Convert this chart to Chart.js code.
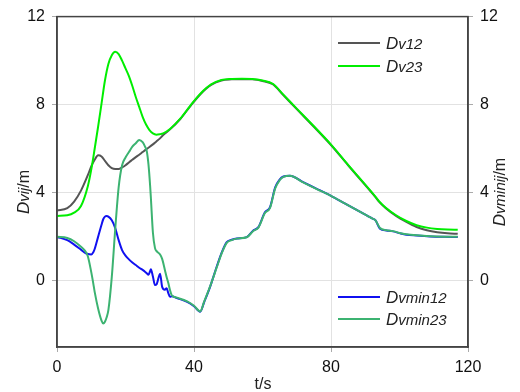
<!DOCTYPE html>
<html>
<head>
<meta charset="utf-8">
<script src="https://cdn.jsdelivr.net/npm/chart.js@4"></script>
<style>
  body { margin: 0; background: #fff; }
  canvas { display: block; }
</style>
</head>
<body>
<canvas id="grafico" width="520" height="392"></canvas>
<script>
// tempos (s) das curvas Dv
var tV = [0, 3, 5, 7, 9, 10, 11, 12, 13, 14, 15, 16, 17, 18, 19, 20, 21, 22, 23, 24, 25, 26, 27, 28, 29, 30, 31, 33, 36, 39, 42, 45, 48, 51, 54, 57, 60, 63, 66, 70, 75, 80, 85, 90, 93, 94, 96, 99, 102, 105, 108, 111, 114, 117];
var dv12 = [3.2, 3.3, 3.6, 4.1, 4.8, 5.2, 5.5, 5.7, 5.65, 5.45, 5.25, 5.12, 5.08, 5.08, 5.15, 5.25, 5.38, 5.5, 5.62, 5.73, 5.85, 5.97, 6.08, 6.2, 6.33, 6.46, 6.62, 6.88, 7.35, 7.95, 8.5, 8.9, 9.1, 9.15, 9.16, 9.15, 9.08, 8.93, 8.45, 7.8, 7.0, 6.17, 5.25, 4.35, 3.8, 3.6, 3.3, 2.95, 2.68, 2.45, 2.3, 2.21, 2.16, 2.14];
var dv23 = [2.95, 2.98, 3.1, 3.4, 4.3, 5.05, 6.0, 7.0, 8.05, 9.1, 9.85, 10.25, 10.4, 10.3, 10.0, 9.65, 9.3, 8.85, 8.35, 7.9, 7.45, 7.1, 6.85, 6.7, 6.64, 6.66, 6.7, 6.9, 7.37, 7.97, 8.52, 8.92, 9.12, 9.17, 9.18, 9.17, 9.1, 8.95, 8.47, 7.82, 7.02, 6.19, 5.27, 4.37, 3.82, 3.62, 3.32, 2.98, 2.72, 2.53, 2.42, 2.36, 2.33, 2.32];

// tempos (s) das curvas Dvmin
var tM = [0, 3, 5, 7, 8, 9, 10, 10.6, 11, 12, 13, 13.5, 14, 14.5, 15, 16, 17, 18, 19, 20, 21, 22, 23, 24, 25, 25.7, 26.2, 26.7, 27.2, 27.4, 28, 28.6, 29.1, 30.1, 30.7, 31.5, 32, 32.5, 33, 33.5, 35, 38, 40, 41.8, 43, 44.7, 46.6, 48, 49.5, 51, 52.5, 55.4, 57.3, 58.8, 60.7, 62.2, 63.7, 65, 66.1, 68, 72, 76, 80, 84, 88, 92, 93, 94.3, 96.2, 98.1, 100, 102, 105, 109, 113, 117];
var dvmin12 = [2.0, 1.85, 1.65, 1.42, 1.3, 1.22, 1.2, 1.3, 1.45, 2.0, 2.55, 2.8, 2.92, 2.95, 2.92, 2.75, 2.4, 1.85, 1.4, 1.15, 0.98, 0.84, 0.72, 0.6, 0.5, 0.42, 0.35, 0.28, 0.45, 0.53, 0.2, -0.19, -0.15, 0.33, -0.27, -0.4, -0.33, -0.55, -0.72, -0.7, -0.78, -0.95, -1.15, -1.4, -0.95, -0.27, 0.63, 1.25, 1.75, 1.87, 1.93, 1.99, 2.29, 2.44, 3.12, 3.35, 4.25, 4.6, 4.74, 4.78, 4.47, 4.17, 3.86, 3.52, 3.18, 2.84, 2.75, 2.37, 2.29, 2.25, 2.17, 2.1, 2.06, 2.02, 2.0, 1.99];
var dvmin23 = [2.0, 1.95, 1.8, 1.55, 1.4, 1.12, 0.4, -0.12, -0.5, -1.25, -1.8, -1.93, -1.85, -1.65, -1.33, 0.18, 2.35, 4.25, 5.25, 5.6, 5.85, 6.1, 6.25, 6.4, 6.3, 6.1, 5.9, 5.3, 4.3, 3.8, 2.2, 1.5, 1.35, 1.2, 1.0, 0.5, 0.18, -0.1, -0.42, -0.65, -0.76, -0.93, -1.13, -1.38, -0.93, -0.25, 0.6, 1.22, 1.72, 1.85, 1.92, 1.98, 2.27, 2.42, 3.08, 3.32, 4.2, 4.57, 4.72, 4.77, 4.46, 4.16, 3.86, 3.52, 3.18, 2.84, 2.75, 2.4, 2.3, 2.26, 2.18, 2.12, 2.07, 2.03, 2.01, 2.0];

var yTicks = [0, 4, 8, 12];
var xTicks = [0, 40, 80, 120];

function pontos(t, v) {
    return t.map(function(x, i) { return { x: x, y: v[i] }; });
}

// desenha texto em partes (fontes diferentes) da esquerda para a direita
function partes(ctx, lista, x, y) {
    var w = 0;
    lista.forEach(function(p) { ctx.font = p[1]; w += ctx.measureText(p[0]).width; });
    return w;
}
function escreve(ctx, lista, x, y) {
    lista.forEach(function(p) {
        ctx.font = p[1];
        ctx.fillText(p[0], x, y);
        x += ctx.measureText(p[0]).width;
    });
}

var fD = 'italic 17px "Liberation Sans", Arial, sans-serif';
var fS = 'italic 15px "Liberation Sans", Arial, sans-serif';
var fN = '16px "Liberation Sans", Arial, sans-serif';

var decor = {
    id: 'decor',
    afterDraw: function(chart) {
        var ctx = chart.ctx, a = chart.chartArea;
        var ds = chart.data.datasets;
        ctx.save();
        ctx.strokeStyle = '#444';
        ctx.lineWidth = 1.5;
        ctx.strokeRect(a.left, a.top, a.right - a.left, a.bottom - a.top);

        // legendas
        ctx.fillStyle = '#222';
        ctx.textBaseline = 'alphabetic';
        var leg = [
            [ds[0], 43, 'v12'], [ds[1], 66, 'v23'],
            [ds[2], 297, 'vmin12'], [ds[3], 319, 'vmin23']
        ];
        leg.forEach(function(l) {
            ctx.strokeStyle = l[0].borderColor;
            ctx.lineWidth = 2;
            ctx.beginPath();
            ctx.moveTo(338, l[1]);
            ctx.lineTo(380, l[1]);
            ctx.stroke();
            escreve(ctx, [['D', fD], [l[2], fS]], 386, l[1] + 6);
        });

        // titulos dos eixos
        ctx.font = fN;
        ctx.textAlign = 'center';
        ctx.fillText('t/s', 263, 389);
        ctx.textAlign = 'left';

        var tL = [['D', fD], ['vij', fS], ['/m', fN]];
        var tR = [['D', fD], ['vminij', fS], ['/m', fN]];
        [[tL, 23], [tR, 499]].forEach(function(t) {
            var w = partes(ctx, t[0]);
            ctx.save();
            ctx.translate(t[1], 192);
            ctx.rotate(-Math.PI / 2);
            escreve(ctx, t[0], -w / 2, 6);
            ctx.restore();
        });
        ctx.restore();
    }
};

var fonteTicks = { family: '"Liberation Sans", Arial, sans-serif', size: 16 };

var ctxG = document.getElementById('grafico').getContext('2d');
new Chart(ctxG, {
    type: 'line',
    data: {
        datasets: [
            { label: 'Dv12', data: pontos(tV, dv12), borderColor: '#555555', order: 4 },
            { label: 'Dv23', data: pontos(tV, dv23), borderColor: '#00ee00', order: 3 },
            { label: 'Dvmin12', data: pontos(tM, dvmin12), borderColor: '#1010f0', order: 2 },
            { label: 'Dvmin23', data: pontos(tM, dvmin23), borderColor: '#3cb371', order: 1 }
        ]
    },
    options: {
        responsive: false,
        animation: false,
        layout: { padding: { top: 15, left: 0, right: 0, bottom: 0 } },
        elements: {
            point: { radius: 0 },
            line: { borderWidth: 2, cubicInterpolationMode: 'monotone', fill: false }
        },
        plugins: { legend: { display: false }, tooltip: { enabled: false } },
        scales: {
            x: {
                type: 'linear', min: 0, max: 120,
                afterBuildTicks: function(s) { s.ticks = xTicks.map(function(v) { return { value: v }; }); },
                afterFit: function(s) { s.height = 45; },
                grid: { color: '#e2e2e2', tickColor: '#aaa', tickLength: 5 },
                border: { color: '#444', width: 1.5 },
                ticks: { color: '#111', font: fonteTicks, padding: 6, maxRotation: 0 }
            },
            y: {
                type: 'linear', position: 'left', min: -3, max: 12,
                afterBuildTicks: function(s) { s.ticks = yTicks.map(function(v) { return { value: v }; }); },
                afterFit: function(s) { s.width = 57; },
                grid: { color: '#e2e2e2', tickColor: '#aaa', tickLength: 5 },
                border: { color: '#444', width: 1.5 },
                ticks: { color: '#111', font: fonteTicks, padding: 7 }
            },
            y2: {
                type: 'linear', position: 'right', min: -3, max: 12,
                afterBuildTicks: function(s) { s.ticks = yTicks.map(function(v) { return { value: v }; }); },
                afterFit: function(s) { s.width = 52; },
                grid: { drawOnChartArea: false, tickColor: '#aaa', tickLength: 5 },
                border: { color: '#444', width: 1.5 },
                ticks: { color: '#111', font: fonteTicks, padding: 7 }
            }
        }
    },
    plugins: [decor]
});
</script>
</body>
</html>
